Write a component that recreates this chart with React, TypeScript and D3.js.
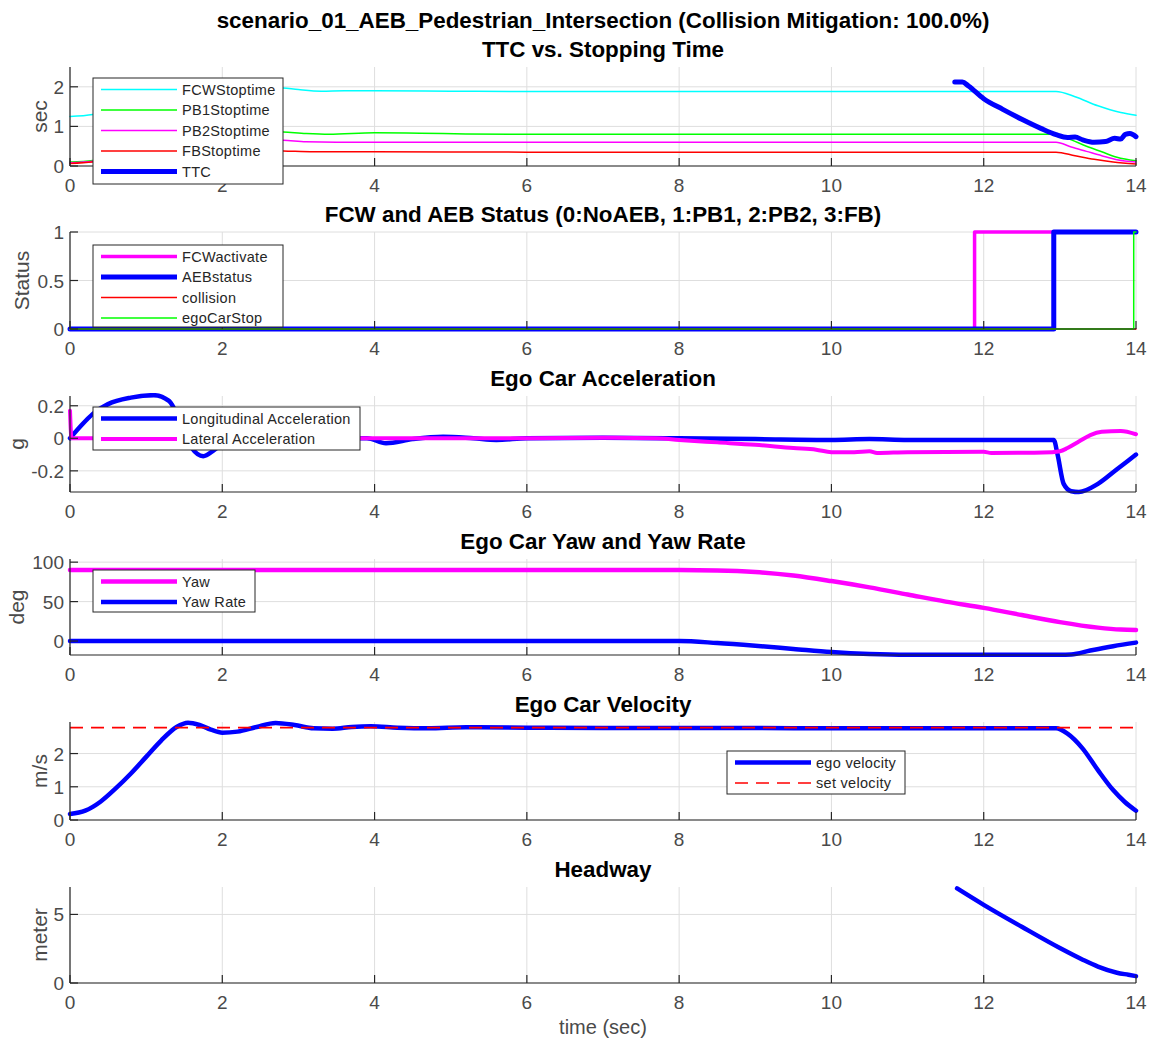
import React from 'react';
import * as d3 from 'd3';

// ---------- Data ----------
const xTicks = [0, 2, 4, 6, 8, 10, 12, 14];

// Panel 1: TTC vs stopping time
const fcwStopT = [0, 0.3, 0.6, 1.0, 1.5, 2.0, 2.5, 2.8, 3.0, 3.3, 3.6, 4, 5, 6, 8, 10, 12, 12.95, 13.2, 13.5, 13.8, 14];
const fcwStopV = [1.25, 1.3, 1.45, 1.75, 2.0, 2.05, 2.0, 1.97, 1.93, 1.89, 1.9, 1.9, 1.89, 1.88, 1.88, 1.88, 1.88, 1.88, 1.75, 1.52, 1.35, 1.28];
const pb1StopT = [0, 0.3, 1.0, 1.5, 2.0, 2.5, 2.8, 3.1, 3.4, 4.0, 4.6, 5.2, 6, 8, 10, 12, 12.95, 13.15, 13.35, 13.55, 13.75, 14];
const pb1StopV = [0.1, 0.14, 0.5, 0.85, 0.9, 0.88, 0.86, 0.82, 0.8, 0.84, 0.83, 0.81, 0.8, 0.8, 0.8, 0.8, 0.8, 0.66, 0.5, 0.36, 0.22, 0.13];
const pb2StopT = [0, 0.3, 1.0, 1.5, 2.0, 2.5, 2.8, 3.1, 3.5, 4, 6, 8, 10, 12, 12.95, 13.15, 13.35, 13.55, 13.75, 14];
const pb2StopV = [0.08, 0.12, 0.4, 0.65, 0.68, 0.66, 0.65, 0.61, 0.6, 0.6, 0.6, 0.6, 0.6, 0.6, 0.6, 0.48, 0.37, 0.26, 0.16, 0.1];
const fbStopT = [0, 0.3, 1.0, 1.5, 2.0, 2.5, 2.8, 3.2, 4, 6, 8, 10, 12, 12.95, 13.2, 13.45, 13.7, 14];
const fbStopV = [0.06, 0.1, 0.25, 0.38, 0.4, 0.39, 0.38, 0.36, 0.36, 0.35, 0.35, 0.35, 0.35, 0.35, 0.26, 0.17, 0.1, 0.05];
const ttcT = [11.62, 11.72, 11.8, 12.0, 12.25, 12.5, 12.75, 12.95, 13.1, 13.2, 13.3, 13.45, 13.6, 13.72, 13.8, 13.86, 13.92, 14];
const ttcV = [2.12, 2.12, 2.02, 1.7, 1.43, 1.18, 0.95, 0.79, 0.72, 0.73, 0.66, 0.6, 0.62, 0.7, 0.68, 0.8, 0.82, 0.74];

// Panel 2: status
const fcwActT = [0, 11.88, 11.88, 14];
const fcwActV = [0, 0, 1, 1];
const aebT = [0, 12.92, 12.92, 14];
const aebV = [0, 0, 1, 1];
const collisionT = [0, 14];
const collisionV = [0, 0];
const egoStopT = [0, 13.97, 13.97, 14];
const egoStopV = [0, 0, 1, 1];

// Panel 3: acceleration
const longAccT = [0, 0.15, 0.3, 0.5, 0.8, 1.1, 1.3, 1.45, 1.6, 1.75, 1.9, 2.1, 2.4, 2.8, 3.2, 3.6, 3.9, 4.15, 4.5, 4.9, 5.3, 5.6, 6, 7, 8, 9, 10, 10.5, 11, 12, 12.92, 12.97, 13.05, 13.15, 13.25, 13.5, 13.75, 14];
const longAccV = [0, 0.08, 0.15, 0.21, 0.25, 0.265, 0.23, 0.1, -0.06, -0.11, -0.07, 0, 0.05, 0.03, -0.02, 0, 0, -0.03, -0.005, 0.01, 0, -0.01, 0, 0.003, 0, -0.005, -0.01, -0.005, -0.01, -0.01, -0.01, -0.1, -0.28, -0.325, -0.33, -0.28, -0.19, -0.1];
const latAccT = [0, 0.02, 2, 4, 6, 7, 7.7, 8, 8.5, 9, 9.5, 9.8, 10, 10.3, 10.5, 10.6, 11, 12, 12.1, 12.9, 13.0, 13.1, 13.25, 13.4, 13.55, 13.8, 14];
const latAccV = [0.17, 0, 0, 0, 0, 0.003, 0, -0.01, -0.025, -0.04, -0.06, -0.07, -0.085, -0.085, -0.08, -0.09, -0.085, -0.083, -0.09, -0.085, -0.08, -0.06, -0.02, 0.02, 0.04, 0.045, 0.025];

// Panel 4: yaw
const yawT = [0, 2, 4, 6, 8, 8.5, 9, 9.5, 10, 10.5, 11, 11.5, 12, 12.5, 13, 13.5, 13.8, 14];
const yawV = [90, 90, 90, 90, 90, 89.5, 87.5, 83, 76, 68, 59, 50, 42, 33, 24, 17, 14.5, 14];
const yawRateT = [0, 2, 4, 6, 8, 8.5, 9, 9.5, 10, 10.5, 11, 12, 13, 13.15, 13.4, 13.7, 14];
const yawRateV = [0, 0, 0, 0, 0, -2.5, -6, -10, -14, -16.5, -17.5, -17.5, -17.5, -17, -12, -6.5, -2];

// Panel 5: velocity
const egoVelT = [0, 0.2, 0.4, 0.6, 0.8, 1.0, 1.2, 1.4, 1.55, 1.7, 1.85, 2.0, 2.2, 2.45, 2.7, 2.95, 3.2, 3.45, 3.7, 3.95, 4.3, 4.7, 5.2, 6, 7, 8, 9, 10, 11, 12, 12.95, 13.1, 13.3, 13.5, 13.7, 13.85, 14];
const egoVelV = [0.18, 0.28, 0.55, 0.95, 1.4, 1.9, 2.4, 2.8, 2.93, 2.86, 2.72, 2.63, 2.66, 2.8, 2.92, 2.86, 2.76, 2.75, 2.8, 2.82, 2.78, 2.76, 2.79, 2.78, 2.77, 2.77, 2.77, 2.76, 2.76, 2.76, 2.76, 2.6, 2.15, 1.5, 0.9, 0.55, 0.28];
const setVelT = [0, 14];
const setVelV = [2.78, 2.78];

// Panel 6: headway
const headwayT = [11.65, 12, 12.5, 13, 13.3, 13.5, 13.75, 13.9, 14];
const headwayV = [6.9, 5.7, 4.1, 2.55, 1.7, 1.2, 0.75, 0.6, 0.5];

// ---------- Layout ----------
const X_LEFT = 70;
const X_RIGHT = 1136;
const FONT = '"Liberation Sans", Arial, Helvetica, sans-serif';
const TEXT = '#262626';
const TICK = '#4a4a4a';
const GRID = '#dedede';

type Series = { t: number[]; v: number[]; label: string; color: string; width: number; dash?: string; step?: boolean };
type Legend = { x: number; y: number; w: number; h: number };
type PanelDef = {
  top: number; bottom: number; yDomain: [number, number]; yTicks: number[]; title: string;
  ylabel: string; ylabelX: number; series: Series[]; legend: Legend;
};

const BLUE = '#0000ff', MAG = '#ff00ff', RED = '#ff0000', GREEN = '#00ff00', CYAN = '#00ffff';

const panels: PanelDef[] = [
  {
    top: 67, bottom: 166, yDomain: [0, 2.5], yTicks: [0, 1, 2], title: 'TTC vs. Stopping Time', ylabel: 'sec', ylabelX: 40,
    series: [
      { t: fcwStopT, v: fcwStopV, label: 'FCWStoptime', color: CYAN, width: 1.5 },
      { t: pb1StopT, v: pb1StopV, label: 'PB1Stoptime', color: GREEN, width: 1.5 },
      { t: pb2StopT, v: pb2StopV, label: 'PB2Stoptime', color: MAG, width: 1.5 },
      { t: fbStopT, v: fbStopV, label: 'FBStoptime', color: RED, width: 1.5 },
      { t: ttcT, v: ttcV, label: 'TTC', color: BLUE, width: 5 },
    ],
    legend: { x: 93, y: 78, w: 190, h: 106 },
  },
  {
    top: 232, bottom: 329, yDomain: [0, 1], yTicks: [0, 0.5, 1], title: 'FCW and AEB Status (0:NoAEB, 1:PB1, 2:PB2, 3:FB)', ylabel: 'Status', ylabelX: 22,
    series: [
      { t: fcwActT, v: fcwActV, label: 'FCWactivate', color: MAG, width: 3.5, step: true },
      { t: aebT, v: aebV, label: 'AEBstatus', color: BLUE, width: 5, step: true },
      { t: collisionT, v: collisionV, label: 'collision', color: RED, width: 1.5, step: true },
      { t: egoStopT, v: egoStopV, label: 'egoCarStop', color: GREEN, width: 1.5, step: true },
    ],
    legend: { x: 93, y: 245, w: 190, h: 82 },
  },
  {
    top: 396, bottom: 492, yDomain: [-0.33, 0.26], yTicks: [-0.2, 0, 0.2], title: 'Ego Car Acceleration', ylabel: 'g', ylabelX: 17,
    series: [
      { t: longAccT, v: longAccV, label: 'Longitudinal Acceleration', color: BLUE, width: 4.5 },
      { t: latAccT, v: latAccV, label: 'Lateral Acceleration', color: MAG, width: 4 },
    ],
    legend: { x: 93, y: 407, w: 267, h: 43 },
  },
  {
    top: 559, bottom: 655, yDomain: [-17.7, 104], yTicks: [0, 50, 100], title: 'Ego Car Yaw and Yaw Rate', ylabel: 'deg', ylabelX: 17,
    series: [
      { t: yawT, v: yawV, label: 'Yaw', color: MAG, width: 4.5 },
      { t: yawRateT, v: yawRateV, label: 'Yaw Rate', color: BLUE, width: 4.5 },
    ],
    legend: { x: 93, y: 570, w: 162, h: 42 },
  },
  {
    top: 722, bottom: 820, yDomain: [0, 2.95], yTicks: [0, 1, 2], title: 'Ego Car Velocity', ylabel: 'm/s', ylabelX: 40,
    series: [
      { t: egoVelT, v: egoVelV, label: 'ego velocity', color: BLUE, width: 4.5 },
      { t: setVelT, v: setVelV, label: 'set velocity', color: RED, width: 1.6, dash: '13,8' },
    ],
    legend: { x: 727, y: 751, w: 178, h: 43 },
  },
  {
    top: 887, bottom: 983, yDomain: [0, 7], yTicks: [0, 5], title: 'Headway', ylabel: 'meter', ylabelX: 40,
    series: [
      { t: headwayT, v: headwayV, label: 'headway', color: BLUE, width: 4.5 },
    ],
    legend: { x: 0, y: 0, w: 0, h: 0 },
  },
];

const xScale = d3.scaleLinear().domain([0, 14]).range([X_LEFT, X_RIGHT]);

function Panel({ p, idx }: { p: PanelDef; idx: number }) {
  const y = d3.scaleLinear().domain(p.yDomain).range([p.bottom, p.top]);
  const clipId = `clip${idx}`;
  const fmt = (v: number) => String(v);
  return (
    <g>
      <defs>
        <clipPath id={clipId}>
          <rect x={X_LEFT - 3} y={p.top - 3} width={X_RIGHT - X_LEFT + 6} height={p.bottom - p.top + 6} />
        </clipPath>
      </defs>
      {xTicks.map((t) => (
        <line key={'gx' + t} x1={xScale(t)} x2={xScale(t)} y1={p.top} y2={p.bottom} stroke={GRID} strokeWidth={1} />
      ))}
      {p.yTicks.map((t) => (
        <line key={'gy' + t} x1={X_LEFT} x2={X_RIGHT} y1={y(t)} y2={y(t)} stroke={GRID} strokeWidth={1} />
      ))}
      <g clipPath={`url(#${clipId})`}>
        {p.series.map((s, i) => {
          const pts: [number, number][] = s.t.map((t, k) => [t, s.v[k]]);
          const gen = d3.line<[number, number]>()
            .x((d) => xScale(d[0]))
            .y((d) => y(d[1]))
            .curve(s.step || s.dash ? d3.curveLinear : d3.curveMonotoneX);
          return (
            <path key={i} d={gen(pts) || ''} fill="none" stroke={s.color} strokeWidth={s.width}
              strokeDasharray={s.dash} strokeLinejoin="round" strokeLinecap={s.dash ? 'butt' : 'round'} />
          );
        })}
      </g>
      <line x1={X_LEFT} x2={X_LEFT} y1={p.top} y2={p.bottom} stroke={TEXT} strokeWidth={1.2} />
      <line x1={X_LEFT} x2={X_RIGHT} y1={p.bottom} y2={p.bottom} stroke={TEXT} strokeWidth={1.2} />
      {xTicks.map((t) => (
        <g key={'tx' + t}>
          <line x1={xScale(t)} x2={xScale(t)} y1={p.bottom} y2={p.bottom - 8} stroke={TEXT} strokeWidth={1.2} />
          <text x={xScale(t)} y={p.bottom + 26} textAnchor="middle" fontSize={19} fill={TICK} fontFamily={FONT}>{fmt(t)}</text>
        </g>
      ))}
      {p.yTicks.map((t) => (
        <g key={'ty' + t}>
          <line x1={X_LEFT} x2={X_LEFT + 8} y1={y(t)} y2={y(t)} stroke={TEXT} strokeWidth={1.2} />
          <text x={X_LEFT - 6} y={y(t) + 7} textAnchor="end" fontSize={19} fill={TICK} fontFamily={FONT}>{fmt(t)}</text>
        </g>
      ))}
      <text x={(X_LEFT + X_RIGHT) / 2} y={p.top - 10} textAnchor="middle" fontSize={22.4} fontWeight="bold" fill="#000" fontFamily={FONT}>{p.title}</text>
      <text transform={`translate(${p.ylabelX + 7},${(p.top + p.bottom) / 2}) rotate(-90)`} textAnchor="middle" fontSize={21} fill={TICK} fontFamily={FONT}>{p.ylabel}</text>
      {p.legend.w > 0 && (
        <g>
          <rect x={p.legend.x} y={p.legend.y} width={p.legend.w} height={p.legend.h} fill="#fff" stroke={TEXT} strokeWidth={1} />
          {p.series.map((s, i) => {
            const ry = p.legend.y + 11.5 + i * 20.5;
            return (
              <g key={'lg' + i}>
                <line x1={p.legend.x + 8} x2={p.legend.x + 84} y1={ry} y2={ry} stroke={s.color} strokeWidth={s.width}
                  strokeDasharray={s.dash} />
                <text x={p.legend.x + 89} y={ry + 5} fontSize={14.5} fill={TEXT} fontFamily={FONT} letterSpacing={0.3}>{s.label}</text>
              </g>
            );
          })}
        </g>
      )}
    </g>
  );
}

export default function App() {
  return (
    <svg width={1153} height={1043} style={{ position: 'absolute', left: 0, top: 0, background: '#fff' }}>
      <rect x={0} y={0} width={1153} height={1043} fill="#fff" />
      <text x={(X_LEFT + X_RIGHT) / 2} y={28} textAnchor="middle" fontSize={22.4} fontWeight="bold" fill="#000" fontFamily={FONT}>
        scenario_01_AEB_Pedestrian_Intersection (Collision Mitigation: 100.0%)
      </text>
      {panels.map((p, i) => <Panel key={i} p={p} idx={i} />)}
      <text x={(X_LEFT + X_RIGHT) / 2} y={1034} textAnchor="middle" fontSize={20} fill={TICK} fontFamily={FONT}>time (sec)</text>
    </svg>
  );
}
